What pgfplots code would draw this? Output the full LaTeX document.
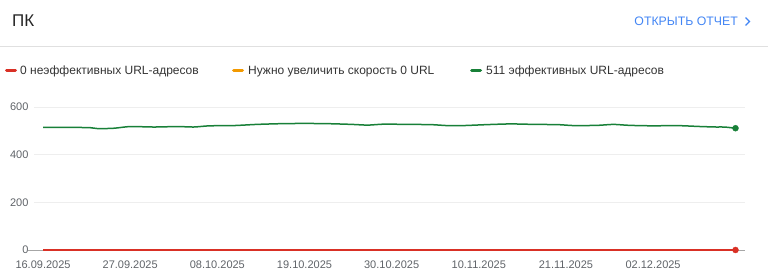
\documentclass[border=0pt]{standalone}
\usepackage{fontspec}
\setmainfont{Liberation Sans}
\usepackage{pgfplots}
\pgfplotsset{compat=1.18}
\definecolor{gGreen}{HTML}{188038}
\definecolor{gRed}{HTML}{D93025}
\definecolor{gOrange}{HTML}{F29900}
\definecolor{gBlue}{HTML}{4285F4}
\definecolor{gText}{HTML}{5F6368}
\definecolor{gGrid}{HTML}{EEEEEE}
\definecolor{gSep}{HTML}{E0E0E0}
\begin{document}
\begin{tikzpicture}[x=1pt,y=1pt]
\path[use as bounding box] (0,0) rectangle (768,280);
% header
\node[anchor=base west, inner sep=0, font=\fontsize{17}{20}\selectfont, text=black!85] at (12,253) {ПК};
\node[anchor=base east, inner sep=0, font=\fontsize{12.3}{14}\selectfont, text=gBlue] at (738,254.5) {ОТКРЫТЬ ОТЧЕТ};
\draw[gBlue, line width=1.3pt] (745.5,262.5) -- (749.5,258.5) -- (745.5,254.5);
\draw[gSep, line width=1pt] (0,233) -- (768,233);
% legend
\draw[gRed, line width=3pt, line cap=round] (6.5,209) -- (15.5,209);
\node[anchor=base west, inner sep=0, font=\fontsize{12}{14}\selectfont, text=black!80] at (20,205) {0 неэффективных URL-адресов};
\draw[gOrange, line width=3pt, line cap=round] (233.5,209) -- (242.5,209);
\node[anchor=base west, inner sep=0, font=\fontsize{12}{14}\selectfont, text=black!80] at (248,205) {Нужно увеличить скорость 0 URL};
\draw[gGreen, line width=3pt, line cap=round] (471.5,209) -- (480.5,209);
\node[anchor=base west, inner sep=0, font=\fontsize{12}{14}\selectfont, text=black!80] at (486,205) {511 эффективных URL-адресов};
\begin{axis}[
  at={(34pt,30pt)}, anchor=south west,
  scale only axis, width=711pt, height=143pt,
  xmin=-1.14, xmax=88.6, ymin=0, ymax=600,
  axis line style={draw=none},
  clip=false,
  ytick={0,200,400,600},
  ymajorgrids, grid style={gGrid, line width=0.8pt},
  xtick={0,11,22,33,44,55,66,77},
  xticklabels={16.09.2025,27.09.2025,08.10.2025,19.10.2025,30.10.2025,10.11.2025,21.11.2025,02.12.2025},
  major tick length=0pt,
  tick label style={font=\fontsize{11}{13}\selectfont, text=gText},
  yticklabel style={xshift=-2pt},
  xticklabel style={anchor=base, yshift=-19pt},
  /pgf/number format/assume math mode=true,
]
\draw[gray!70, line width=0.8pt] (axis cs:-1.9,0) -- (axis cs:88.6,0);
\addplot[gRed, line width=1.5pt] coordinates {(0,0) (87.4,0)};
\addplot[gGreen, line width=1.5pt, smooth, tension=0.4] coordinates {
(0,514) (3,515) (6,513) (7,509) (9,511) (11,518) (14,516) (17,518) (19,516)
(21,521) (24,522) (27,527) (30,530) (33,531) (36,530) (39,527) (41,524)
(43,528) (46,527) (49,526) (51,522) (53,522) (56,526) (59,529) (62,527)
(65,526) (67,522) (70,523) (72,527) (74,523) (77,521) (80,522) (83,518)
(85,516) (86,516) (87.4,511)};
\addplot[gGreen, only marks, mark=*, mark size=3pt] coordinates {(87.4,511)};
\addplot[gRed, only marks, mark=*, mark size=3pt] coordinates {(87.4,0)};
\end{axis}
\end{tikzpicture}
\end{document}
